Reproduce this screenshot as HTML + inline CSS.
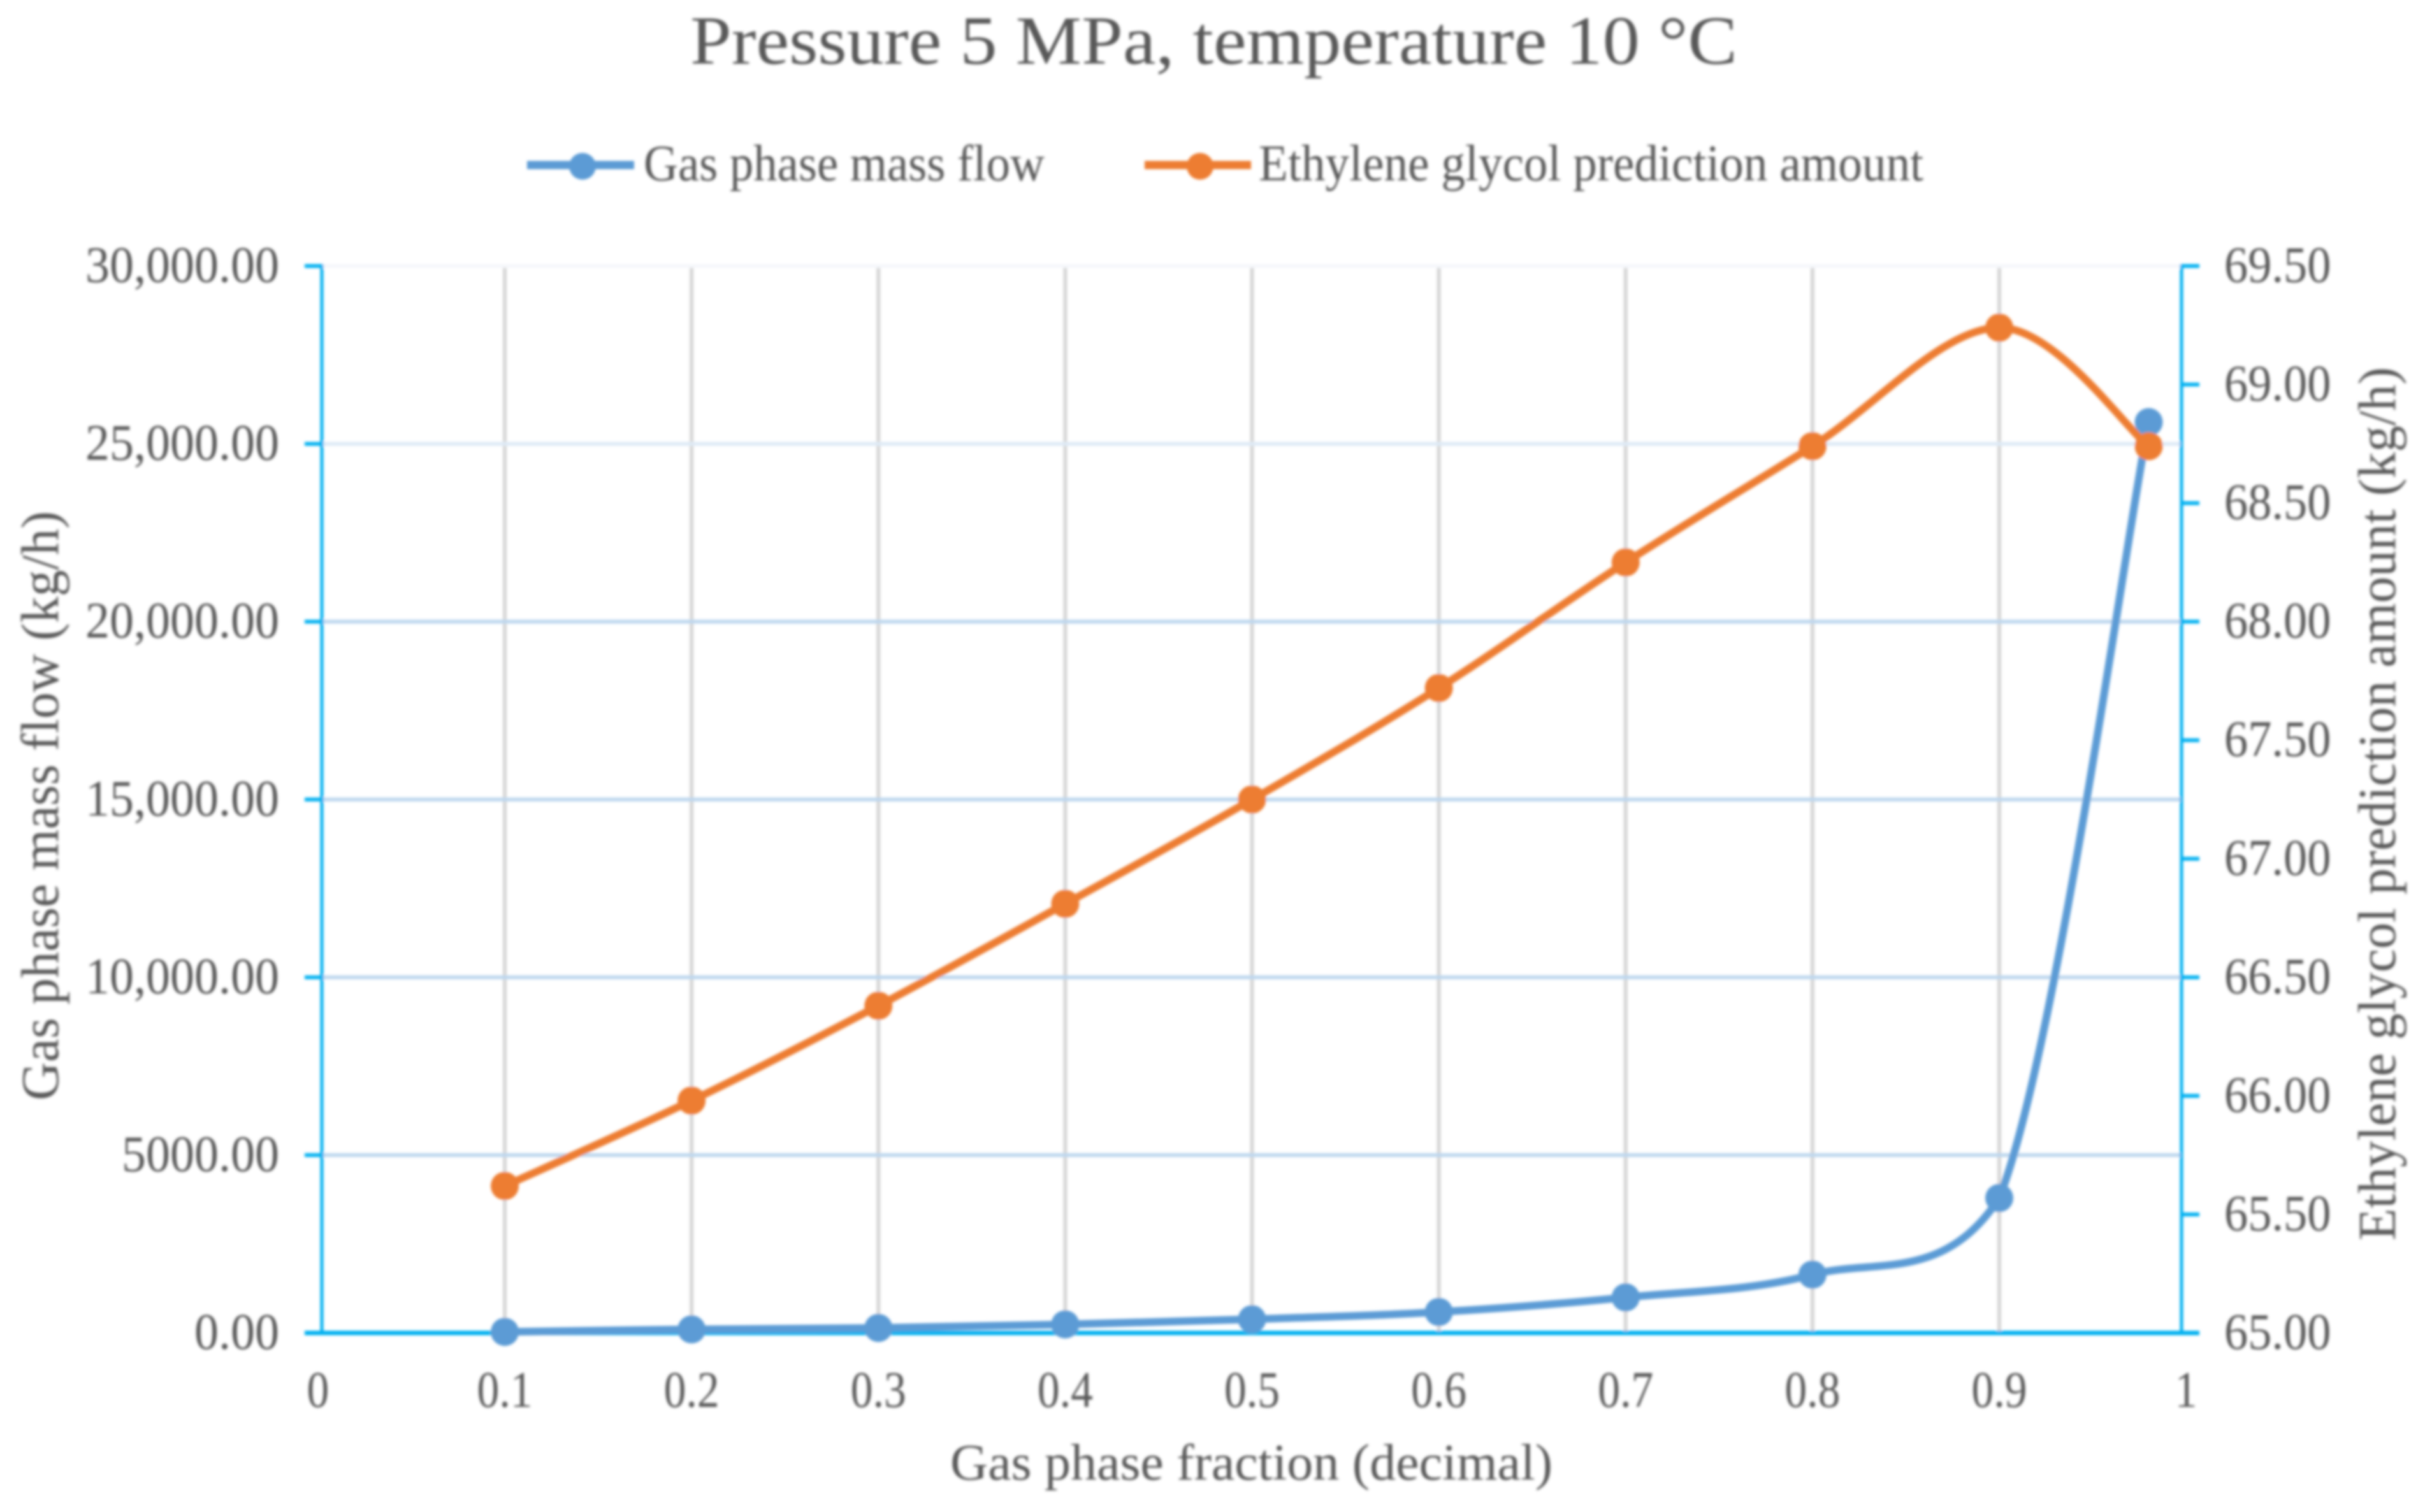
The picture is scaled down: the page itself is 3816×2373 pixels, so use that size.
<!DOCTYPE html>
<html lang="en">
<head>
<meta charset="utf-8">
<title>Pressure 5 MPa, temperature 10 °C</title>
<style>
  html, body { margin: 0; padding: 0; background: #ffffff; }
  svg { display: block; }
  text { font-family: "Liberation Serif", "DejaVu Serif", serif; fill: #595959; }
</style>
</head>
<body>
<svg id="chart" xmlns="http://www.w3.org/2000/svg" width="3816" height="2373" viewBox="0 0 3816 2373">
  <defs>
    <filter id="soft" filterUnits="userSpaceOnUse" x="0" y="0" width="3816" height="2373">
      <feGaussianBlur stdDeviation="2"/>
    </filter>
  </defs>
  <rect x="0" y="0" width="3816" height="2373" fill="#ffffff"/>
  <g id="root" filter="url(#soft)">
    <text x="1083" y="100" font-size="108" textLength="1643" lengthAdjust="spacingAndGlyphs">Pressure 5 MPa, temperature 10 °C</text>

    <g>
      <g>
        <line x1="827" y1="259" x2="995" y2="259" stroke="#5b9bd5" stroke-width="13"/>
        <circle cx="914" cy="261" r="21" fill="#5b9bd5"/>
        <text x="1010" y="283" font-size="80" textLength="629" lengthAdjust="spacingAndGlyphs">Gas phase mass flow</text>
      </g>
      <g>
        <line x1="1796" y1="259" x2="1963" y2="259" stroke="#ed7d31" stroke-width="13"/>
        <circle cx="1883" cy="261" r="21" fill="#ed7d31"/>
        <text x="1975" y="283" font-size="80" textLength="1043" lengthAdjust="spacingAndGlyphs">Ethylene glycol prediction amount</text>
      </g>
    </g>

    <g id="grid-v"></g>
    <g id="grid-h"></g>
    <g id="axes"></g>
    <g id="tick-labels"></g>
    <g id="series"></g>

    <text x="1491" y="2322" font-size="80" textLength="945" lengthAdjust="spacingAndGlyphs">Gas phase fraction (decimal)</text>
    <text transform="translate(91,1727) rotate(-90)" font-size="84" textLength="925" lengthAdjust="spacingAndGlyphs">Gas phase mass flow  (kg/h)</text>
    <text transform="translate(3758,1947) rotate(-90)" font-size="84" textLength="1371" lengthAdjust="spacingAndGlyphs">Ethylene glycol prediction amount (kg/h)</text>
  </g>
</svg>
<script>
const categories = [0.1, 0.2, 0.3, 0.4, 0.5, 0.6, 0.7, 0.8, 0.9, 0.98];
const gasPhaseMassFlow = [30, 100, 140, 240, 385, 590, 1000, 1640, 3795, 25610];
const glycolPrediction = [65.62, 65.98, 66.38, 66.81, 67.25, 67.72, 68.25, 68.74, 69.24, 68.74];
const xTicks = [0, 0.1, 0.2, 0.3, 0.4, 0.5, 0.6, 0.7, 0.8, 0.9, 1];
const xTickLabels = ['0', '0.1', '0.2', '0.3', '0.4', '0.5', '0.6', '0.7', '0.8', '0.9', '1'];
const leftTicks = [0, 5000, 10000, 15000, 20000, 25000, 30000];
const leftTickLabels = ['0.00', '5000.00', '10,000.00', '15,000.00', '20,000.00', '25,000.00', '30,000.00'];
const rightTicks = [65, 65.5, 66, 66.5, 67, 67.5, 68, 68.5, 69, 69.5];
const rightTickLabels = ['65.00', '65.50', '66.00', '66.50', '67.00', '67.50', '68.00', '68.50', '69.00', '69.50'];

const NS = 'http://www.w3.org/2000/svg';
const plotLeft = 505, plotRight = 3423, plotTop = 417.5, plotBottom = 2092;
const sx = v => 498.9 + v * 2931.25;
const syLeft = v => plotBottom - (v / 30000) * (plotBottom - plotTop);
const syRight = v => plotBottom - ((v - 65) / 4.5) * (plotBottom - plotTop);

function make(tag, attrs, parent) {
  const el = document.createElementNS(NS, tag);
  for (const k in attrs) el.setAttribute(k, attrs[k]);
  parent.appendChild(el);
  return el;
}

const gridV = document.getElementById('grid-v');
const gridH = document.getElementById('grid-h');
const axes = document.getElementById('axes');
const tickLabels = document.getElementById('tick-labels');
const series = document.getElementById('series');
const AXIS = '#00b0f0';

xTicks.forEach((v, i) => {
  if (v > 0 && v < 1) {
    const g = make('line', { x1: sx(v), x2: sx(v), y1: plotTop, y2: plotBottom, stroke: '#d6d6d6', 'stroke-width': 6 }, gridV);
    
    
  }
  const t = make('text', { transform: 'translate(' + sx(v) + ',2208) scale(0.87,1)', 'font-size': 80, 'text-anchor': 'middle' }, tickLabels);
  t.textContent = xTickLabels[i];
  
  
});

leftTicks.forEach((v, i) => {
  const y = syLeft(v);
  if (v > 0) {
    const colour = v === 30000 ? '#f5f7fb' : (v === 25000 ? '#deeaf6' : '#bdd7ee');
    const g = make('line', { x1: plotLeft, x2: plotRight, y1: y, y2: y, stroke: colour, 'stroke-width': 6 }, gridH);
    
    
  }
  const tick = make('line', { x1: 478, x2: plotLeft, y1: y, y2: y, stroke: AXIS, 'stroke-width': 6 }, axes);
  
  
  const t = make('text', { transform: 'translate(438,' + (y + 25) + ') scale(0.95,1)', 'font-size': 80, 'text-anchor': 'end' }, tickLabels);
  t.textContent = leftTickLabels[i];
  
  
});

rightTicks.forEach((v, i) => {
  const y = syRight(v);
  const tick = make('line', { x1: plotRight, x2: 3451, y1: y, y2: y, stroke: AXIS, 'stroke-width': 6 }, axes);
  
  
  const t = make('text', { transform: 'translate(3490,' + (y + 25) + ') scale(0.93,1)', 'font-size': 80, 'text-anchor': 'start' }, tickLabels);
  t.textContent = rightTickLabels[i];
  
  
});

const leftAxis = make('line', { x1: plotLeft, x2: plotLeft, y1: plotTop - 3, y2: plotBottom, stroke: AXIS, 'stroke-width': 5 }, axes);


const rightAxis = make('line', { x1: plotRight, x2: plotRight, y1: plotTop - 3, y2: plotBottom, stroke: AXIS, 'stroke-width': 5 }, axes);


const bottomAxis = make('line', { x1: 478, x2: 3451, y1: plotBottom, y2: plotBottom, stroke: AXIS, 'stroke-width': 7 }, axes);



const clampTo = (v, a, b) => Math.min(Math.max(a, b), Math.max(Math.min(a, b), v));

function smoothPath(points) {
  let d = 'M' + points[0][0] + ' ' + points[0][1];
  for (let i = 0; i < points.length - 1; i++) {
    const p0 = points[Math.max(0, i - 1)];
    const p1 = points[i];
    const p2 = points[i + 1];
    const p3 = points[Math.min(points.length - 1, i + 2)];
    const c1x = p1[0] + (p2[0] - p0[0]) / 6;
    const c1y = p1[1] + (p2[1] - p0[1]) / 6;
    const c2x = p2[0] - (p3[0] - p1[0]) / 6;
    const c2y = p2[1] - (p3[1] - p1[1]) / 6;
    const lowY = Math.min(p1[1], p2[1]) - 14;
    const highY = Math.max(p1[1], p2[1]) + 14;
    d += ' C' + c1x + ' ' + clampTo(c1y, lowY, highY) + ' ' + c2x + ' ' + clampTo(c2y, lowY, highY) + ' ' + p2[0] + ' ' + p2[1];
  }
  return d;
}

const gasPoints = categories.map((c, i) => [sx(c), syLeft(gasPhaseMassFlow[i])]);
const glycolPoints = categories.map((c, i) => [sx(c), syRight(glycolPrediction[i])]);

const gasLine = make('path', { d: smoothPath(gasPoints), fill: 'none', stroke: '#5b9bd5', 'stroke-width': 12, 'stroke-linejoin': 'round' }, series);


gasPoints.forEach(p => {
  const m = make('circle', { cx: p[0], cy: p[1], r: 22, fill: '#5b9bd5' }, series);
  
  
});

const glycolLine = make('path', { d: smoothPath(glycolPoints), fill: 'none', stroke: '#ed7d31', 'stroke-width': 12, 'stroke-linejoin': 'round' }, series);


glycolPoints.forEach(p => {
  const m = make('circle', { cx: p[0], cy: p[1], r: 22, fill: '#ed7d31' }, series);
  
  
});
</script>
</body>
</html>
